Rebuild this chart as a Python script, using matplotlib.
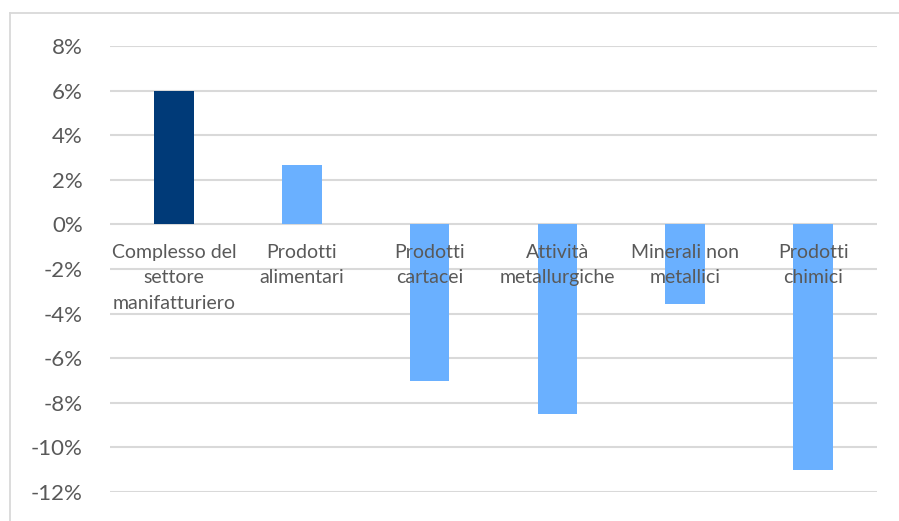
import matplotlib
matplotlib.use("Agg")
from matplotlib import pyplot as plt
from matplotlib.lines import Line2D
from matplotlib.ticker import FuncFormatter

categories = [
    "Complesso del\nsettore\nmanifatturiero",
    "Prodotti\nalimentari",
    "Prodotti\ncartacei",
    "Attività\nmetallurgiche",
    "Minerali non\nmetallici",
    "Prodotti\nchimici",
]
values = [0.060, 0.0265, -0.070, -0.085, -0.0355, -0.110]
colors = ["#003A78", "#6AB0FF", "#6AB0FF", "#6AB0FF", "#6AB0FF", "#6AB0FF"]
yticks = [-0.12, -0.10, -0.08, -0.06, -0.04, -0.02, 0.0, 0.02, 0.04, 0.06, 0.08]

plt.rcParams["font.family"] = ["Lato", "DejaVu Sans"]

W, H = 899, 521
fig = plt.figure(figsize=(W / 100, H / 100), dpi=100)
ax = fig.add_axes([110 / W, (H - 492) / H, (877 - 110) / W, (492 - 46) / H])

x = list(range(len(categories)))
ax.bar(x, values, width=0.31, color=colors, zorder=2)

ax.set_xlim(-0.5, len(categories) - 0.5)
ax.set_ylim(-0.12, 0.08)
ax.set_yticks(yticks)
ax.yaxis.set_major_formatter(FuncFormatter(lambda v, p: "{:.0f}%".format(round(v * 100))))
ax.tick_params(axis="y", length=0, pad=19.5, labelsize=16, labelcolor="#595959")
ax.set_xticks([])
ax.grid(axis="y", color="#D9D9D9", linewidth=1.5, zorder=0)
for s in ax.spines.values():
    s.set_visible(False)

for i, lab in enumerate(categories):
    ax.annotate(lab, xy=(i, 0), xytext=(0, -14), textcoords="offset points",
                ha="center", va="top", fontsize=14, color="#595959",
                linespacing=1.6, zorder=3)

# outer chart border (top and left visible)
fig.add_artist(Line2D([9.5 / W, 9.5 / W], [0, (H - 13) / H], color="#D9D9D9", linewidth=1.3))
fig.add_artist(Line2D([9.5 / W, 1], [(H - 13) / H, (H - 13) / H], color="#D9D9D9", linewidth=1.3))

fig.savefig("out.png", dpi=100)
